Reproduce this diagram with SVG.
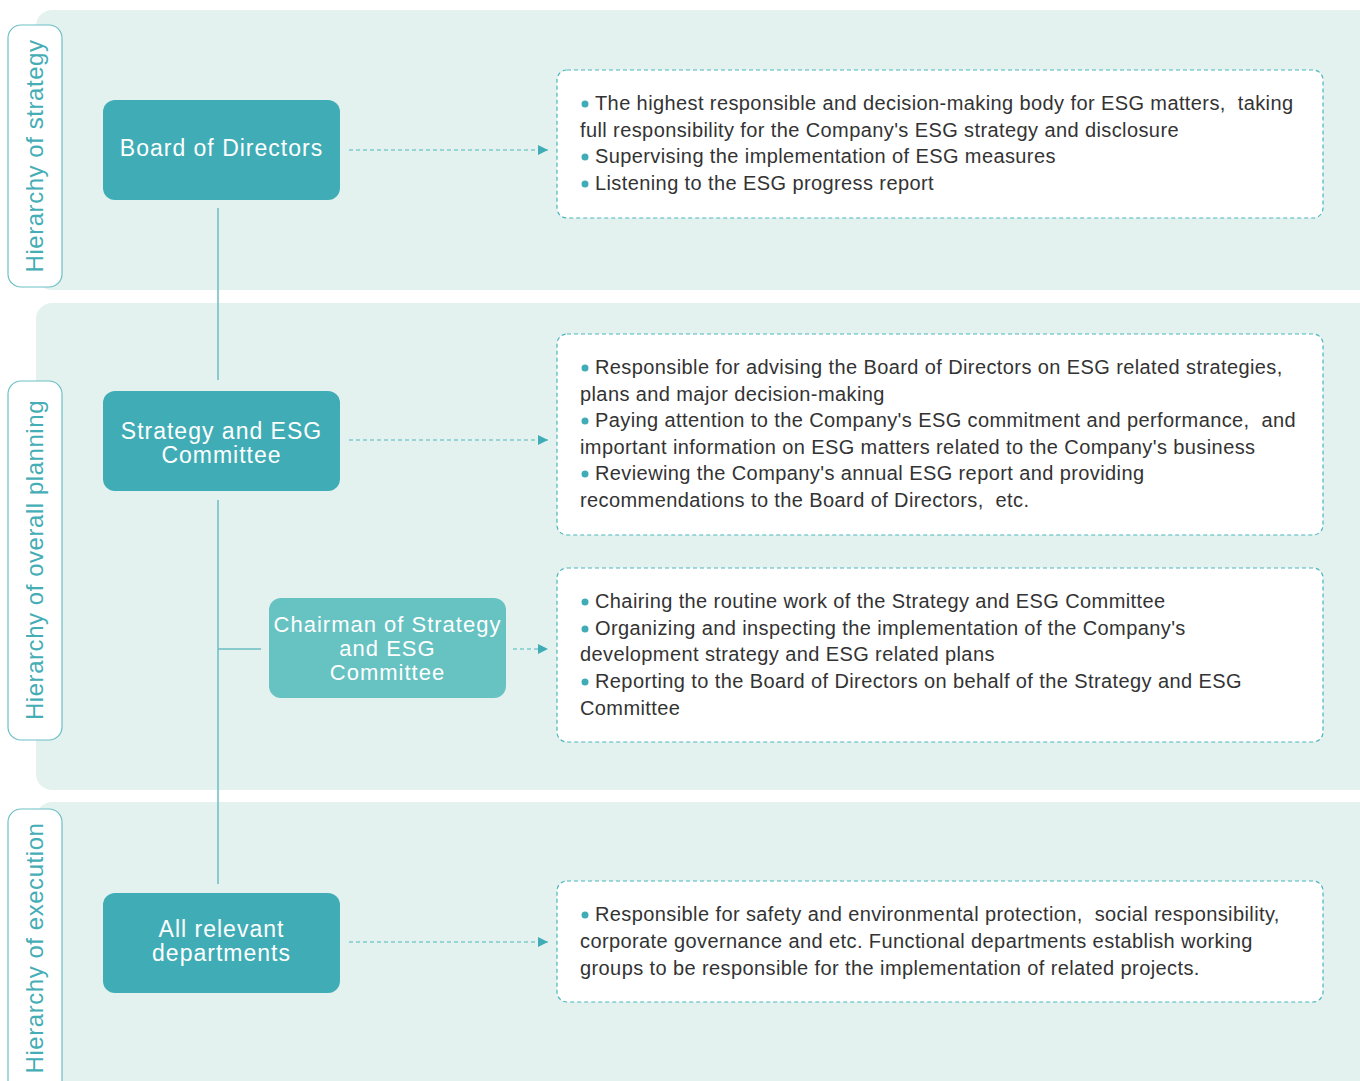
<svg xmlns="http://www.w3.org/2000/svg" width="1360" height="1081" viewBox="0 0 1360 1081">
<style>
.band{fill:#e3f2ef}
.pill{fill:#ffffff;stroke:#6cc0c6;stroke-width:1.2}
.pilltxt{font-family:"Liberation Sans",Arial,sans-serif;font-size:24px;letter-spacing:0.55px;fill:#45adb6;text-anchor:middle}
.node{fill:#40adb6}
.node2{fill:#67c2c2}
.ntxt{font-family:"Liberation Sans",Arial,sans-serif;font-size:23px;letter-spacing:1px;fill:#ffffff;text-anchor:middle}
.ntxt2{font-family:"Liberation Sans",Arial,sans-serif;font-size:22px;letter-spacing:1px;fill:#ffffff;text-anchor:middle}
.desc{fill:#ffffff;stroke:#4bb5bd;stroke-width:1.2;stroke-dasharray:4 3}
.dtxt{font-family:"Liberation Sans",Arial,sans-serif;font-size:20px;letter-spacing:0.4px;fill:#333333}
.dot{fill:#40adb6}
.solid{stroke:#6bbdc3;stroke-width:1.5;fill:none}
.dash{stroke:#4bb5bd;stroke-width:1.2;stroke-dasharray:4 3;fill:none}
</style>
<defs>
<marker id="arr" viewBox="0 0 10 10" refX="10" refY="5" markerWidth="10" markerHeight="10" markerUnits="userSpaceOnUse" orient="auto">
<path d="M0,0 L10,5 L0,10 z" fill="#40adb6"/>
</marker>
</defs>
<g id="bands">
<rect class="band" x="36" y="10" width="1340" height="280" rx="16"/>
<rect class="band" x="36" y="303" width="1340" height="487" rx="16"/>
<rect class="band" x="36" y="802" width="1340" height="300" rx="16"/>
</g>
<g id="label-strategy">
<rect class="pill" x="8" y="25" width="54" height="262" rx="13"/>
<text class="pilltxt" transform="translate(43,156) rotate(-90)">Hierarchy of strategy</text>
</g>
<g id="label-planning">
<rect class="pill" x="8" y="381" width="54" height="359" rx="13"/>
<text class="pilltxt" transform="translate(43,560) rotate(-90)">Hierarchy of overall planning</text>
</g>
<g id="label-execution">
<rect class="pill" x="8" y="809" width="54" height="290" rx="13"/>
<text class="pilltxt" transform="translate(43,948) rotate(-90)">Hierarchy of execution</text>
</g>
<g id="connectors">
<line class="solid" x1="218" y1="208" x2="218" y2="380"/>
<line class="solid" x1="218" y1="500" x2="218" y2="884"/>
<line class="solid" x1="218" y1="649" x2="261" y2="649"/>
<line class="dash" x1="349" y1="150" x2="548" y2="150" marker-end="url(#arr)"/>
<line class="dash" x1="349" y1="440" x2="548" y2="440" marker-end="url(#arr)"/>
<line class="dash" x1="513" y1="649" x2="548" y2="649" marker-end="url(#arr)"/>
<line class="dash" x1="349" y1="942" x2="548" y2="942" marker-end="url(#arr)"/>
</g>
<g id="node-board">
<rect class="node" x="103" y="100" width="237" height="100" rx="12"/>
<text class="ntxt" x="221.5" y="156">Board of Directors</text>
</g>
<g id="node-committee">
<rect class="node" x="103" y="391" width="237" height="100" rx="12"/>
<text class="ntxt" x="221.5" y="439">Strategy and ESG</text>
<text class="ntxt" x="221.5" y="463">Committee</text>
</g>
<g id="node-chairman">
<rect class="node2" x="269" y="598" width="237" height="100" rx="12"/>
<text class="ntxt2" x="387.5" y="632">Chairman of Strategy</text>
<text class="ntxt2" x="387.5" y="656">and ESG</text>
<text class="ntxt2" x="387.5" y="680">Committee</text>
</g>
<g id="node-departments">
<rect class="node" x="103" y="893" width="237" height="100" rx="12"/>
<text class="ntxt" x="221.5" y="937">All relevant</text>
<text class="ntxt" x="221.5" y="961">departments</text>
</g>
<g id="desc-board">
<rect class="desc" x="557" y="70" width="766" height="148" rx="10"/>
<circle class="dot" cx="585" cy="104" r="3.5"/>
<text class="dtxt" x="595" y="110">The highest responsible and decision-making body for ESG matters,&#160; taking</text>
<text class="dtxt" x="580" y="137">full responsibility for the Company's ESG strategy and disclosure</text>
<circle class="dot" cx="585" cy="157" r="3.5"/>
<text class="dtxt" x="595" y="163">Supervising the implementation of ESG measures</text>
<circle class="dot" cx="585" cy="184" r="3.5"/>
<text class="dtxt" x="595" y="190">Listening to the ESG progress report</text>
</g>
<g id="desc-committee">
<rect class="desc" x="557" y="334" width="766" height="201" rx="10"/>
<circle class="dot" cx="585" cy="368" r="3.5"/>
<text class="dtxt" x="595" y="374">Responsible for advising the Board of Directors on ESG related strategies,</text>
<text class="dtxt" x="580" y="401">plans and major decision-making</text>
<circle class="dot" cx="585" cy="421" r="3.5"/>
<text class="dtxt" x="595" y="427">Paying attention to the Company's ESG commitment and performance,&#160; and</text>
<text class="dtxt" x="580" y="454">important information on ESG matters related to the Company's business</text>
<circle class="dot" cx="585" cy="474" r="3.5"/>
<text class="dtxt" x="595" y="480">Reviewing the Company's annual ESG report and providing</text>
<text class="dtxt" x="580" y="507">recommendations to the Board of Directors,&#160; etc.</text>
</g>
<g id="desc-chairman">
<rect class="desc" x="557" y="568" width="766" height="174" rx="10"/>
<circle class="dot" cx="585" cy="602" r="3.5"/>
<text class="dtxt" x="595" y="608">Chairing the routine work of the Strategy and ESG Committee</text>
<circle class="dot" cx="585" cy="629" r="3.5"/>
<text class="dtxt" x="595" y="635">Organizing and inspecting the implementation of the Company's</text>
<text class="dtxt" x="580" y="661">development strategy and ESG related plans</text>
<circle class="dot" cx="585" cy="682" r="3.5"/>
<text class="dtxt" x="595" y="688">Reporting to the Board of Directors on behalf of the Strategy and ESG</text>
<text class="dtxt" x="580" y="715">Committee</text>
</g>
<g id="desc-departments">
<rect class="desc" x="557" y="881" width="766" height="121" rx="10"/>
<circle class="dot" cx="585" cy="915" r="3.5"/>
<text class="dtxt" x="595" y="921">Responsible for safety and environmental protection,&#160; social responsibility,</text>
<text class="dtxt" x="580" y="948">corporate governance and etc. Functional departments establish working</text>
<text class="dtxt" x="580" y="975">groups to be responsible for the implementation of related projects.</text>
</g>
</svg>
